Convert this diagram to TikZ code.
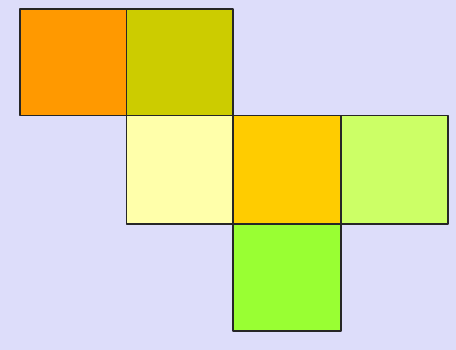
\documentclass[tikz,border=0pt]{standalone}
\usepackage{tikz}
\definecolor{bgnet}{HTML}{DDDDFA}
\definecolor{faceA}{HTML}{FF9900}
\definecolor{faceB}{HTML}{CCCC00}
\definecolor{faceC}{HTML}{FFFFAA}
\definecolor{faceD}{HTML}{FFCC00}
\definecolor{faceE}{HTML}{CCFF66}
\definecolor{faceF}{HTML}{99FF33}
\tikzset{face/.style={draw=black!85,line width=1.3pt,line join=round}}

\begin{document}
\begin{tikzpicture}[x=1pt,y=-1pt]
\fill[bgnet] (0,0) rectangle (456,350);
\useasboundingbox (0,0) rectangle (456,350);
% faces of the net
\foreach \x/\y/\w/\h/\c in {20/9/106.5/106.5/faceA,126.5/9/106.5/106.5/faceB,
  126.5/115.5/106.5/108.5/faceC,233/115.5/108/108.5/faceD,341/115.5/107/108.5/faceE,
  233/224/108/107/faceF}{
  \filldraw[face,fill=\c] (\x,\y) rectangle ++(\w,\h);
}
\end{tikzpicture}
\end{document}
